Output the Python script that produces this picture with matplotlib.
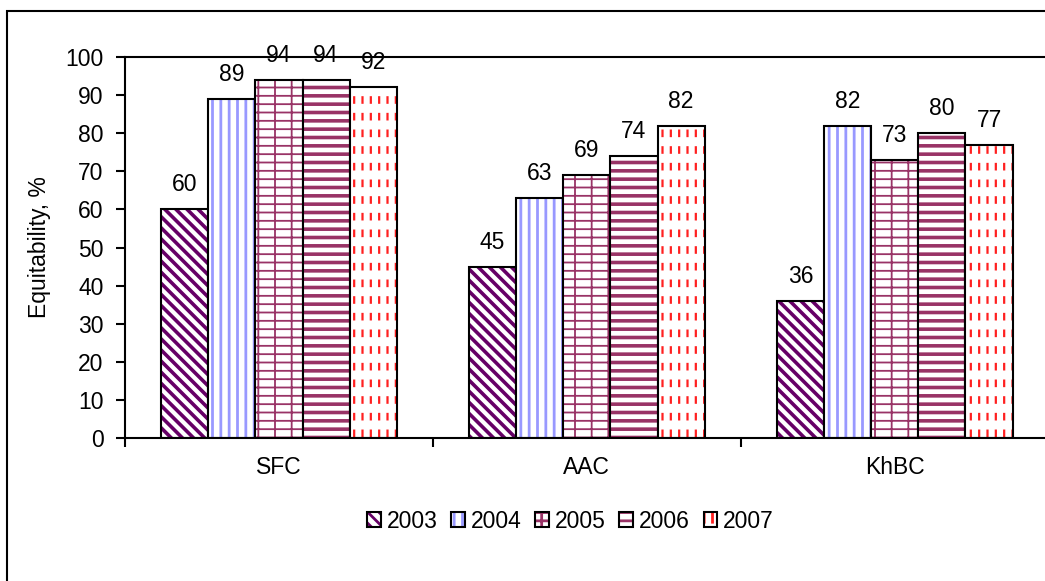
import numpy as np
import matplotlib.pyplot as plt
from matplotlib.patches import Rectangle

plt.rcParams['font.family'] = ['Liberation Sans', 'DejaVu Sans']
plt.rcParams['hatch.linewidth'] = 2.0

categories = ['SFC', 'AAC', 'KhBC']
years = ['2003', '2004', '2005', '2006', '2007']
v2003 = [60, 45, 36]
v2004 = [89, 63, 82]
v2005 = [94, 69, 73]
v2006 = [94, 74, 80]
v2007 = [92, 82, 77]
series = [v2003, v2004, v2005, v2006, v2007]

# hatch colour, pattern and line width per year
colors = ['#660066', '#9999FF', '#993366', '#993366', '#FF2020']
hatches = ['\\\\\\', '||', '--|', '--', '||']
hatch_lw = [2.6, 2.0, 1.3, 2.6, 1.6]

fs = 16.5


def set_hlw(bars, lw):
    for p in bars:
        if hasattr(p, 'set_hatch_linewidth'):
            p.set_hatch_linewidth(lw)


fig = plt.figure(figsize=(10.45, 5.81), dpi=100)
ax = fig.add_axes([0.1196, 0.2461, 0.884, 0.6558])

x = np.arange(len(categories)) + 0.5
w = 0.153

handles = []
for i, (yr, vals, col, hat) in enumerate(zip(years, series, colors, hatches)):
    pos = x + (i - 2) * w
    hb = ax.bar(pos, vals, w, color='white', edgecolor=col, linewidth=0, hatch=hat)
    set_hlw(hb, hatch_lw[i])
    parts = [hb]
    if yr == '2007':
        # white stripes break the red lines into dashes
        wb = ax.bar(pos, vals, w, color='none', edgecolor='white', linewidth=0, hatch='-')
        set_hlw(wb, 6.5)
        parts.append(wb)
    parts.append(ax.bar(pos, vals, w, color='none', edgecolor='black', linewidth=1.5))
    handles.append(tuple(parts))
    for xp, v in zip(pos, vals):
        ax.annotate(str(v), (xp, v), xytext=(0, 13), textcoords='offset points',
                    ha='center', va='baseline', fontsize=fs, annotation_clip=False)

ax.set_xlim(0, 3)
ax.set_ylim(0, 100)
ax.set_yticks(range(0, 101, 10))
ax.set_xticks([0, 1, 2, 3])
ax.set_xticklabels([])
ax.set_xticks(x, minor=True)
ax.set_xticklabels(categories, minor=True)
ax.tick_params(axis='x', which='major', length=6.5, width=1.5, direction='out')
ax.tick_params(axis='x', which='minor', length=0, pad=13, labelsize=fs)
ax.tick_params(axis='y', length=6.5, width=1.5, pad=9, labelsize=fs)
for s in ax.spines.values():
    s.set_linewidth(1.5)
ax.spines['right'].set_visible(False)

ax.set_ylabel('Equitability, %', fontsize=fs)
ax.yaxis.set_label_coords(-0.08, 0.5)

fig.legend(handles, years, loc='center', bbox_to_anchor=(0.546, 0.103), ncol=5,
           frameon=False, fontsize=fs, handlelength=0.6, handleheight=0.6,
           handletextpad=0.25, columnspacing=0.6)

# outer chart border
fig.add_artist(Rectangle((7 / 1045, -0.5), 2, 0.5 + 1 - 11 / 581, transform=fig.transFigure,
                         fill=False, edgecolor='black', linewidth=1.5))

fig.savefig('out.png', dpi=100)
